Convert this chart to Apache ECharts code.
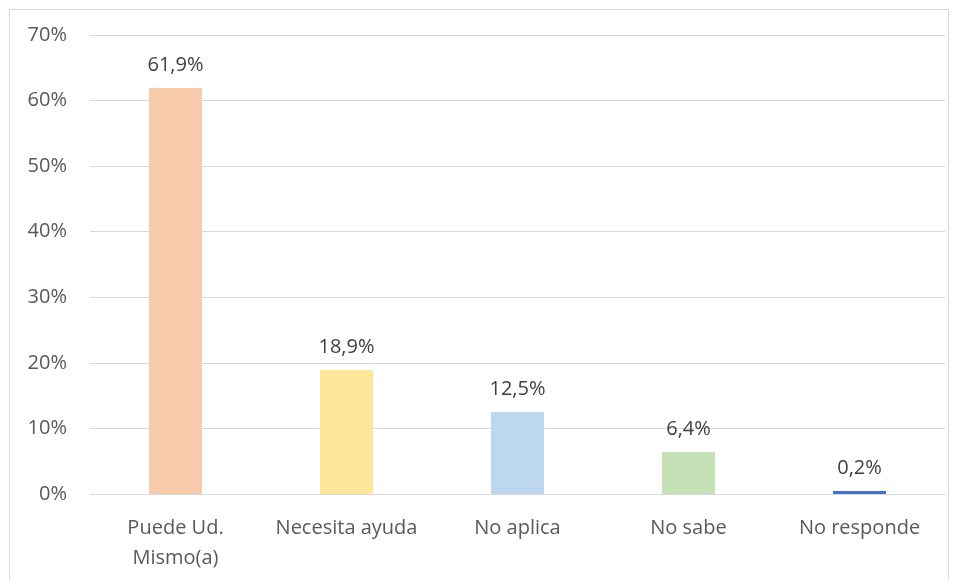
<!DOCTYPE html>
<html>
    <head>
        <meta charset="utf-8">
        <title>Chart</title>
        <script src="https://cdn.jsdelivr.net/npm/echarts@6/dist/echarts.min.js"></script>
        <style>
            body { margin: 0; background: #fff; }
            #frame { position: absolute; left: 9px; top: 9px; width: 940px; height: 580px; border: 1px solid #d9d9d9; box-sizing: border-box; }
            #container { position: absolute; left: 0; top: 0; width: 955px; height: 580px; }
        </style>
    </head>
    <body>
        <div id="frame"></div>
        <div id="container"></div>
    </body>
    <script>
        var categories = ['Puede Ud.\nMismo(a)', 'Necesita ayuda', 'No aplica', 'No sabe', 'No responde'];
        var values = [61.9, 18.9, 12.5, 6.4, 0.2];
        var barColors = ['#F8CBAD', '#FFE699', '#BDD7EE', '#C5E0B4', '#4472C4'];

        var chartDom = document.getElementById('container');
        var myChart = echarts.init(chartDom);

        var option = {
            animation: false,
            grid: {
                top: 35,
                bottom: 86,
                left: 90,
                right: 10
            },
            xAxis: {
                type: 'category',
                data: categories,
                axisTick: { show: false },
                axisLine: { lineStyle: { color: '#d9d9d9', width: 1 } },
                axisLabel: {
                    color: '#595959',
                    fontSize: 20,
                    fontFamily: 'Open Sans',
                    margin: 19,
                    lineHeight: 30,
                    interval: 0
                }
            },
            yAxis: {
                type: 'value',
                min: 0,
                max: 70,
                interval: 10,
                axisLine: { show: false },
                axisTick: { show: false },
                splitLine: { lineStyle: { color: '#d9d9d9', width: 1 } },
                axisLabel: {
                    color: '#595959',
                    fontSize: 20,
                    fontFamily: 'Open Sans',
                    margin: 23,
                    formatter: function (v) { return v + '%'; }
                }
            },
            series: [{
                type: 'bar',
                barWidth: '31%',
                barMinHeight: 3,
                data: values.map(function (v, i) {
                    return { value: v, itemStyle: { color: barColors[i] } };
                }),
                label: {
                    show: true,
                    position: 'top',
                    distance: 13,
                    color: '#404040',
                    fontSize: 20,
                    fontFamily: 'Open Sans',
                    formatter: function (p) { return p.value.toFixed(1).replace('.', ',') + '%'; }
                }
            }]
        };

        myChart.setOption(option);
    </script>
</html>
